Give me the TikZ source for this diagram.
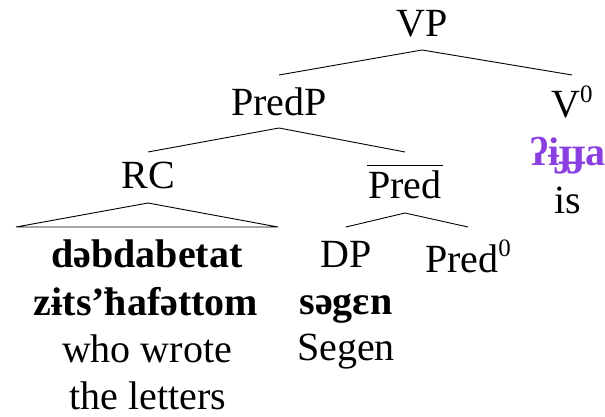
\documentclass[tikz,border=0pt]{standalone}
\usepackage{fontspec}
\setmainfont{Liberation Serif}
\definecolor{ipapurple}{RGB}{138,63,224}
\newcommand{\zsup}{\raisebox{0.40em}{\fontsize{25}{25}\selectfont 0}}
\newcommand{\ovlbar}[1]{\vbox{\hrule height 1.4pt\kern 4pt\hbox{\kern 1.5pt#1\kern 1.5pt}}}
\tikzset{
  lbl/.style={font=\fontsize{40}{48}\selectfont, inner sep=0pt, outer sep=0pt, anchor=base},
  bld/.style={lbl, font=\fontsize{40}{48}\selectfont\bfseries},
  branch/.style={draw=black, line width=0.9pt},
}
\begin{document}
\begin{tikzpicture}[x=1pt,y=-1pt]
\useasboundingbox (0,0) rectangle (605,417);
% categories
\node[lbl, text depth=13pt] (VP) at (422,37) {VP};
\node[lbl, text height=41pt, text depth=12pt] (PredP) at (279,116) {PredP};
\node[lbl, text height=43pt] (V0) at (572,118) {V\zsup};
\node[lbl, text height=36pt, text depth=15pt] (RC) at (148,188) {RC};
\node[lbl, text height=46pt, text depth=15pt] (Pred) at (405,198) {\ovlbar{Pred}};
\node[lbl, text height=40pt] (DP) at (346,267) {DP};
\node[lbl, text height=45pt] (Pred0) at (468,272) {Pred\zsup};
% leaves
\node[bld, text height=40pt, minimum width=262pt] (rc1) at (147,267) {dəbdabetat};
\node[bld] (rc2) at (146,315) {zɨts’ħafəttom};
\node[lbl] (rc3) at (147,362) {who wrote};
\node[lbl] (rc4) at (148,409) {the letters};
\node[bld] (dp1) at (346,314) {səgɛn};
\node[lbl] (dp2) at (346,360) {Segen};
\node[bld, text=ipapurple] (v1) at (568,165) {ʔɨɟɟa};
\node[lbl] (v2) at (568,213) {is};
% branches
\draw[branch] (PredP.north) -- (VP.south) -- (V0.north);
\draw[branch] (RC.north) -- (PredP.south) -- (Pred.north);
\draw[branch] (DP.north) -- (Pred.south) -- (Pred0.north);
\draw[branch] (RC.south) -- (rc1.north west) -- (rc1.north east) -- cycle;
\end{tikzpicture}
\end{document}
